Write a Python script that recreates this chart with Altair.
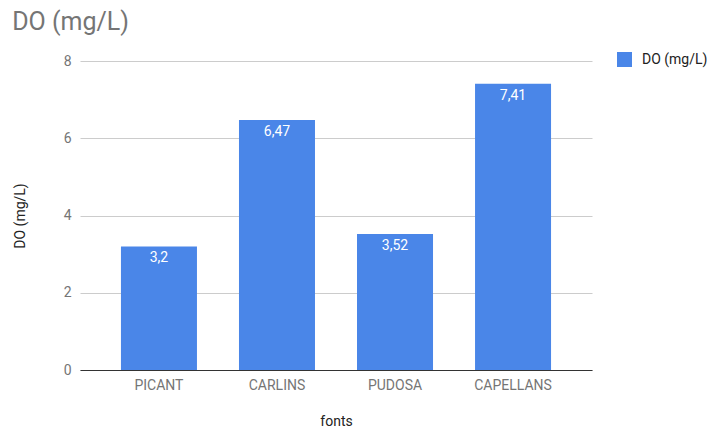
import altair as alt
import pandas as pd

# Dissolved oxygen per source
fonts = ["PICANT", "CARLINS", "PUDOSA", "CAPELLANS"]
do_values = [3.2, 6.47, 3.52, 7.41]
series_name = "DO (mg/L)"

df = pd.DataFrame({"font": fonts, "value": do_values, "serie": [series_name] * len(fonts)})

FONT = "Roboto"
GREY = "#757575"
BLUE = "#4a86e8"

base = alt.Chart(df).encode(
    x=alt.X(
        "font:N",
        sort=fonts,
        title="fonts",
        scale=alt.Scale(paddingInner=0.356, paddingOuter=0.347),
        axis=alt.Axis(
            labelAngle=0,
            labelFont=FONT,
            labelFontSize=14,
            labelColor=GREY,
            labelPadding=8,
            ticks=False,
            grid=False,
            domainColor="#333333",
            domainWidth=1,
            titleFont=FONT,
            titleFontSize=14,
            titleFontWeight="normal",
            titleColor="#222222",
            titlePadding=22,
        ),
    ),
    y=alt.Y(
        "value:Q",
        title=series_name,
        scale=alt.Scale(domain=[0, 8]),
        axis=alt.Axis(
            values=[0, 2, 4, 6, 8],
            format="d",
            labelFont=FONT,
            labelFontSize=14,
            labelColor=GREY,
            labelPadding=9,
            ticks=False,
            domain=False,
            gridColor="#cccccc",
            titleFont=FONT,
            titleFontSize=14,
            titleFontWeight="normal",
            titleColor="#222222",
            titlePadding=36,
        ),
    ),
)

bars = base.mark_bar(color=BLUE).encode(
    color=alt.Color(
        "serie:N",
        scale=alt.Scale(range=[BLUE]),
        legend=alt.Legend(
            title=None,
            orient="none",
            legendX=537,
            legendY=-9,
            symbolType="square",
            symbolSize=225,
            symbolStrokeWidth=0,
            labelFont=FONT,
            labelFontSize=14,
            labelColor="#222222",
            labelOffset=10,
            padding=0,
        ),
    )
)

labels = base.mark_text(
    baseline="top", dy=5, color="white", font=FONT, fontSize=14
).transform_calculate(
    label="replace(toString(datum.value), '.', ',')"
).encode(text="label:N")

chart = (
    (bars + labels)
    .properties(
        width=512,
        height=309,
        background="white",
        title=alt.TitleParams(
            series_name,
            anchor="start",
            frame="bounds",
            font=FONT,
            fontSize=25,
            fontWeight="normal",
            color=GREY,
            dx=-1,
            offset=17,
        ),
        autosize=alt.AutoSizeParams(type="none"),
        padding={"left": 80, "top": 61, "right": 121, "bottom": 59},
    )
    .configure_view(stroke=None, strokeWidth=0)
)

chart.save("out.html", embed_options={"renderer": "svg", "actions": False})
